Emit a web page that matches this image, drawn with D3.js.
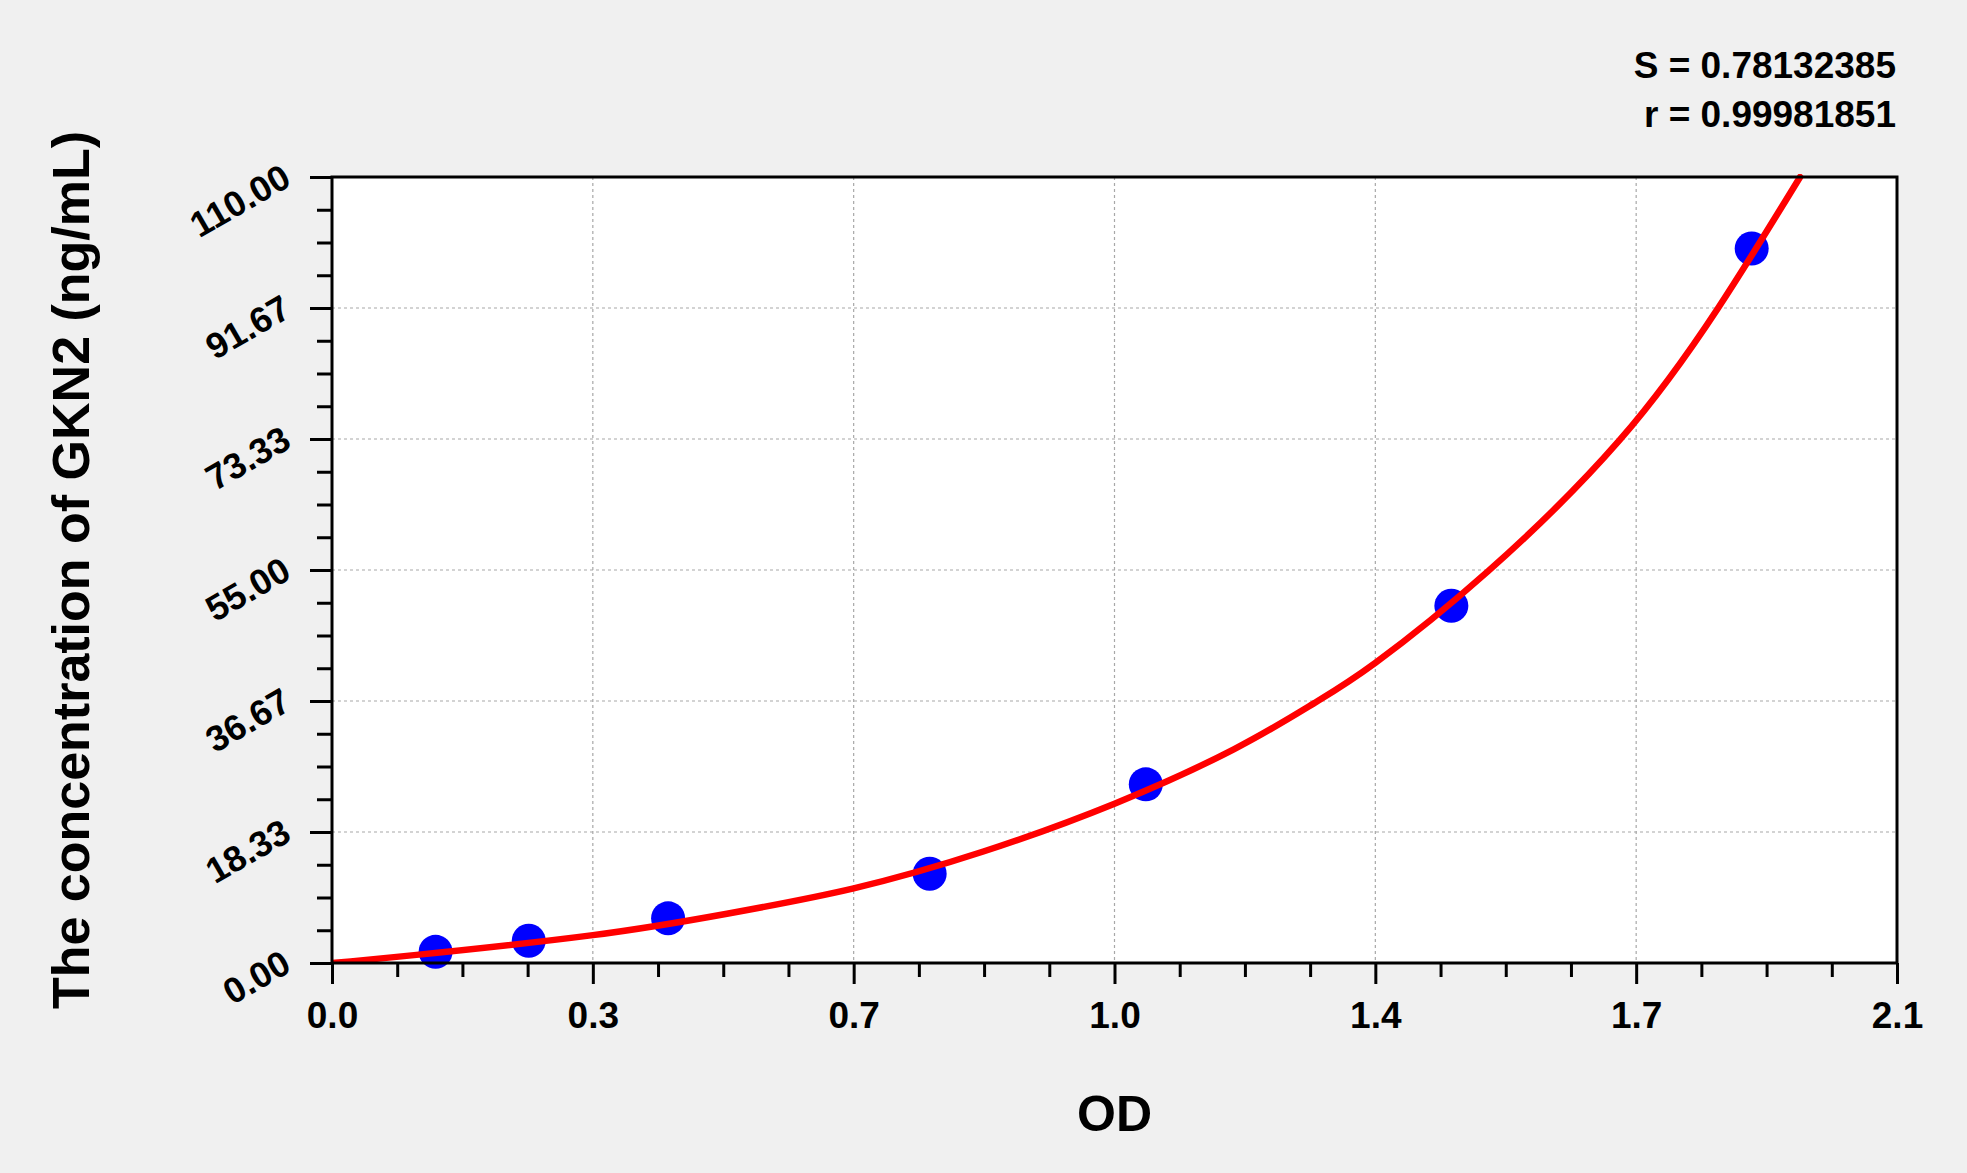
<!DOCTYPE html>
<html>
<head>
<meta charset="utf-8">
<script src="https://cdn.jsdelivr.net/npm/d3@7"></script>
<style>
  html, body { margin: 0; padding: 0; background: #f0f0f0; }
  svg { display: block; }
  text { font-family: "Liberation Sans", Arial, sans-serif; font-weight: bold; fill: #000; }
</style>
</head>
<body>
<div id="chart"></div>
<script>
// Standard points (OD vs concentration)
const odValues = [0.139, 0.264, 0.451, 0.802, 1.092, 1.502, 1.905];
const concValues = [1.5625, 3.125, 6.25, 12.5, 25, 50, 100];

// Fitted curve
const curveOd = [0, 0.11, 0.35, 0.53, 0.70, 0.874, 1.05, 1.21, 1.317, 1.40, 1.551, 1.728, 1.86, 1.97];
const curveConc = [0, 1.1, 3.9, 6.9, 10.45, 15.6, 22.3, 29.9, 36.3, 42, 54.8, 73.2, 91.67, 110];

// Axis ticks
const xTickValues = [0, 0.35, 0.7, 1.05, 1.4, 1.75, 2.1];
const xTickLabels = ['0.0', '0.3', '0.7', '1.0', '1.4', '1.7', '2.1'];
const yTickValues = [0, 18.333, 36.667, 55, 73.333, 91.667, 110];
const yTickLabels = ['0.00', '18.33', '36.67', '55.00', '73.33', '91.67', '110.00'];

const statLines = ['S = 0.78132385', 'r = 0.99981851'];
const xTitle = 'OD';
const yTitle = 'The concentration of GKN2 (ng/mL)';

const width = 1967;
const height = 1173;
const plot = { left: 332, right: 1897, top: 177, bottom: 963 };

const x = d3.scaleLinear().domain([0, 2.1]).range([plot.left, plot.right]);
const y = d3.scaleLinear().domain([0, 110]).range([plot.bottom, plot.top]);

const svg = d3.select('#chart').append('svg')
  .attr('width', width)
  .attr('height', height);

svg.append('rect')
  .attr('width', width)
  .attr('height', height)
  .attr('fill', '#f0f0f0');

svg.append('rect')
  .attr('x', plot.left)
  .attr('y', plot.top)
  .attr('width', plot.right - plot.left)
  .attr('height', plot.bottom - plot.top)
  .attr('fill', '#fff');

svg.append('clipPath')
  .attr('id', 'plot-clip')
  .append('rect')
  .attr('x', plot.left)
  .attr('y', plot.top - 3)
  .attr('width', plot.right - plot.left)
  .attr('height', plot.bottom - plot.top + 3);

// Grid lines
const grid = svg.append('g')
  .attr('stroke', '#a8a8a8')
  .attr('stroke-width', 1.2)
  .attr('stroke-dasharray', '3,3');

grid.selectAll('line.vgrid')
  .data(xTickValues.slice(1, -1))
  .join('line')
  .attr('class', 'vgrid')
  .attr('x1', d => x(d))
  .attr('x2', d => x(d))
  .attr('y1', plot.top)
  .attr('y2', plot.bottom);

grid.selectAll('line.hgrid')
  .data(yTickValues.slice(1, -1))
  .join('line')
  .attr('class', 'hgrid')
  .attr('x1', plot.left)
  .attr('x2', plot.right)
  .attr('y1', d => y(d))
  .attr('y2', d => y(d));

// Minor ticks (4 subdivisions per major step)
const xMinor = d3.range(0, 24).map(i => i * 2.1 / 24).filter((d, i) => i % 4 !== 0);
const yMinor = d3.range(0, 24).map(i => i * 110 / 24).filter((d, i) => i % 4 !== 0);

const xMinorAxis = svg.append('g')
  .attr('transform', `translate(0,${plot.bottom})`)
  .call(d3.axisBottom(x).tickValues(xMinor).tickSize(14).tickFormat(''));

const yMinorAxis = svg.append('g')
  .attr('transform', `translate(${plot.left},0)`)
  .call(d3.axisLeft(y).tickValues(yMinor).tickSize(15).tickFormat(''));

const xAxis = svg.append('g')
  .attr('transform', `translate(0,${plot.bottom})`)
  .call(d3.axisBottom(x)
    .tickValues(xTickValues)
    .tickSize(21)
    .tickFormat((d, i) => xTickLabels[i]));

const yAxis = svg.append('g')
  .attr('transform', `translate(${plot.left},0)`)
  .call(d3.axisLeft(y)
    .tickValues(yTickValues)
    .tickSize(22)
    .tickFormat((d, i) => yTickLabels[i]));

[xMinorAxis, yMinorAxis, xAxis, yAxis].forEach(g => {
  g.select('.domain').remove();
  g.selectAll('.tick line')
    .attr('stroke', '#000')
    .attr('stroke-width', 3);
});

xAxis.selectAll('.tick text')
  .attr('y', 65)
  .attr('dy', null)
  .style('font-size', '37px')
  .style('font-family', '"Liberation Sans", Arial, sans-serif')
  .style('font-weight', 'bold')
  .attr('fill', '#000');

yAxis.selectAll('.tick text')
  .attr('x', null)
  .attr('dy', null)
  .attr('text-anchor', 'end')
  .attr('transform', 'translate(-39,7) rotate(-30)')
  .style('font-size', '36px')
  .style('font-family', '"Liberation Sans", Arial, sans-serif')
  .style('font-weight', 'bold')
  .attr('fill', '#000');

// Standard points
svg.append('g')
  .selectAll('circle')
  .data(odValues.map((d, i) => ({ od: d, conc: concValues[i] })))
  .join('circle')
  .attr('cx', d => x(d.od))
  .attr('cy', d => y(d.conc))
  .attr('r', 17)
  .attr('fill', '#0000ff');

// Fitted curve
const line = d3.line()
  .x(d => x(d.od))
  .y(d => y(d.conc))
  .curve(d3.curveNatural);

svg.append('path')
  .datum(curveOd.map((d, i) => ({ od: d, conc: curveConc[i] })))
  .attr('clip-path', 'url(#plot-clip)')
  .attr('d', line)
  .attr('fill', 'none')
  .attr('stroke', '#ff0000')
  .attr('stroke-width', 6.5)
  .attr('stroke-linecap', 'round');

// Plot frame
svg.append('rect')
  .attr('x', plot.left)
  .attr('y', plot.top)
  .attr('width', plot.right - plot.left)
  .attr('height', plot.bottom - plot.top)
  .attr('fill', 'none')
  .attr('stroke', '#000')
  .attr('stroke-width', 3);

// Titles
svg.append('text')
  .attr('x', (plot.left + plot.right) / 2)
  .attr('y', 1131)
  .attr('text-anchor', 'middle')
  .style('font-size', '50px')
  .text(xTitle);

svg.append('text')
  .attr('transform', `translate(89,${(plot.top + plot.bottom) / 2}) rotate(-90)`)
  .attr('text-anchor', 'middle')
  .style('font-size', '52px')
  .text(yTitle);

svg.selectAll('text.stat')
  .data(statLines)
  .join('text')
  .attr('class', 'stat')
  .attr('x', 1896)
  .attr('y', (d, i) => 78 + i * 49)
  .attr('text-anchor', 'end')
  .style('font-size', '37px')
  .text(d => d);
</script>
</body>
</html>
